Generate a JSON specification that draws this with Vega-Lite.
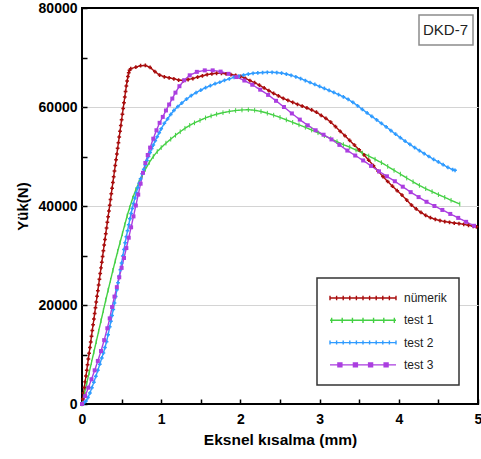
{
"$schema": "https://vega.github.io/schema/vega-lite/v6.json",
"width": 396, "height": 396,
"autosize": {"type": "none"},
"padding": {"left": 82, "top": 8, "right": 3, "bottom": 55},
"background": "white",
"config": {"font": "Liberation Sans", "view": {"stroke": "#000", "strokeWidth": 2}},
"datasets": {
"curves": [
{"series":"nümerik","x":0,"y":0},{"series":"nümerik","x":0.01,"y":1000},{"series":"nümerik","x":0.02,"y":2200},{"series":"nümerik","x":0.03,"y":3350},{"series":"nümerik","x":0.04,"y":4500},{"series":"nümerik","x":0.05,"y":5650},{"series":"nümerik","x":0.06,"y":6800},{"series":"nümerik","x":0.07,"y":7950},{"series":"nümerik","x":0.08,"y":9100},{"series":"nümerik","x":0.09,"y":10250},{"series":"nümerik","x":0.10,"y":11400},{"series":"nümerik","x":0.11,"y":12550},{"series":"nümerik","x":0.12,"y":13700},{"series":"nümerik","x":0.13,"y":14850},{"series":"nümerik","x":0.14,"y":16000},{"series":"nümerik","x":0.15,"y":17150},{"series":"nümerik","x":0.16,"y":18300},{"series":"nümerik","x":0.17,"y":19450},{"series":"nümerik","x":0.18,"y":20600},{"series":"nümerik","x":0.19,"y":21750},{"series":"nümerik","x":0.20,"y":22900},{"series":"nümerik","x":0.21,"y":24050},{"series":"nümerik","x":0.22,"y":25200},{"series":"nümerik","x":0.23,"y":26350},{"series":"nümerik","x":0.24,"y":27500},{"series":"nümerik","x":0.25,"y":28650},{"series":"nümerik","x":0.26,"y":29800},{"series":"nümerik","x":0.27,"y":30950},{"series":"nümerik","x":0.28,"y":32100},{"series":"nümerik","x":0.29,"y":33250},{"series":"nümerik","x":0.30,"y":34400},{"series":"nümerik","x":0.31,"y":35550},{"series":"nümerik","x":0.32,"y":36700},{"series":"nümerik","x":0.33,"y":37850},{"series":"nümerik","x":0.34,"y":39000},{"series":"nümerik","x":0.35,"y":40150},{"series":"nümerik","x":0.36,"y":41300},{"series":"nümerik","x":0.37,"y":42450},{"series":"nümerik","x":0.38,"y":43600},{"series":"nümerik","x":0.39,"y":44750},{"series":"nümerik","x":0.40,"y":45900},{"series":"nümerik","x":0.41,"y":47050},{"series":"nümerik","x":0.42,"y":48200},{"series":"nümerik","x":0.43,"y":49350},{"series":"nümerik","x":0.44,"y":50500},{"series":"nümerik","x":0.45,"y":51650},{"series":"nümerik","x":0.46,"y":52800},{"series":"nümerik","x":0.47,"y":53950},{"series":"nümerik","x":0.48,"y":55100},{"series":"nümerik","x":0.49,"y":56250},{"series":"nümerik","x":0.50,"y":57400},{"series":"nümerik","x":0.51,"y":58550},{"series":"nümerik","x":0.52,"y":59700},{"series":"nümerik","x":0.53,"y":60850},{"series":"nümerik","x":0.54,"y":62000},{"series":"nümerik","x":0.55,"y":63150},{"series":"nümerik","x":0.56,"y":64250},{"series":"nümerik","x":0.57,"y":65250},{"series":"nümerik","x":0.58,"y":66150},{"series":"nümerik","x":0.59,"y":66900},{"series":"nümerik","x":0.60,"y":67400},{"series":"nümerik","x":0.615,"y":67750},
{"series":"nümerik","x":0.68,"y":68050},{"series":"nümerik","x":0.74,"y":68350},{"series":"nümerik","x":0.80,"y":68400},{"series":"nümerik","x":0.86,"y":68000},{"series":"nümerik","x":0.92,"y":67150},{"series":"nümerik","x":0.98,"y":66450},{"series":"nümerik","x":1.04,"y":66100},{"series":"nümerik","x":1.10,"y":65900},{"series":"nümerik","x":1.16,"y":65700},{"series":"nümerik","x":1.22,"y":65450},{"series":"nümerik","x":1.28,"y":65350},{"series":"nümerik","x":1.34,"y":65550},{"series":"nümerik","x":1.40,"y":65750},{"series":"nümerik","x":1.46,"y":66050},{"series":"nümerik","x":1.52,"y":66300},{"series":"nümerik","x":1.58,"y":66550},{"series":"nümerik","x":1.64,"y":66700},{"series":"nümerik","x":1.70,"y":66800},{"series":"nümerik","x":1.76,"y":66800},{"series":"nümerik","x":1.82,"y":66700},{"series":"nümerik","x":1.88,"y":66550},{"series":"nümerik","x":1.94,"y":66400},{"series":"nümerik","x":2.00,"y":66200},{"series":"nümerik","x":2.06,"y":65800},{"series":"nümerik","x":2.12,"y":65350},{"series":"nümerik","x":2.18,"y":64900},{"series":"nümerik","x":2.24,"y":64400},{"series":"nümerik","x":2.30,"y":63850},{"series":"nümerik","x":2.36,"y":63300},{"series":"nümerik","x":2.42,"y":62750},{"series":"nümerik","x":2.48,"y":62250},{"series":"nümerik","x":2.54,"y":61750},{"series":"nümerik","x":2.60,"y":61350},{"series":"nümerik","x":2.66,"y":60950},{"series":"nümerik","x":2.72,"y":60550},{"series":"nümerik","x":2.78,"y":60200},{"series":"nümerik","x":2.84,"y":59800},{"series":"nümerik","x":2.90,"y":59400},{"series":"nümerik","x":2.96,"y":58950},{"series":"nümerik","x":3.02,"y":58300},{"series":"nümerik","x":3.08,"y":57700},{"series":"nümerik","x":3.14,"y":56950},{"series":"nümerik","x":3.20,"y":56050},{"series":"nümerik","x":3.26,"y":55100},{"series":"nümerik","x":3.32,"y":54200},{"series":"nümerik","x":3.38,"y":53250},{"series":"nümerik","x":3.44,"y":52300},{"series":"nümerik","x":3.50,"y":51350},{"series":"nümerik","x":3.56,"y":50350},{"series":"nümerik","x":3.62,"y":49250},{"series":"nümerik","x":3.68,"y":48150},{"series":"nümerik","x":3.74,"y":47000},{"series":"nümerik","x":3.80,"y":45950},{"series":"nümerik","x":3.86,"y":44950},{"series":"nümerik","x":3.92,"y":44000},{"series":"nümerik","x":3.98,"y":43100},{"series":"nümerik","x":4.04,"y":42200},{"series":"nümerik","x":4.10,"y":41200},{"series":"nümerik","x":4.16,"y":40200},{"series":"nümerik","x":4.22,"y":39400},{"series":"nümerik","x":4.28,"y":38700},{"series":"nümerik","x":4.34,"y":38100},{"series":"nümerik","x":4.40,"y":37650},{"series":"nümerik","x":4.46,"y":37300},{"series":"nümerik","x":4.52,"y":37050},{"series":"nümerik","x":4.58,"y":36850},{"series":"nümerik","x":4.64,"y":36700},{"series":"nümerik","x":4.70,"y":36550},{"series":"nümerik","x":4.76,"y":36450},{"series":"nümerik","x":4.82,"y":36300},{"series":"nümerik","x":4.88,"y":36100},{"series":"nümerik","x":4.94,"y":35900},{"series":"nümerik","x":4.98,"y":35800},
{"series":"test 1","x":0,"y":0},{"series":"test 1","x":0.03,"y":2100},{"series":"test 1","x":0.06,"y":4200},{"series":"test 1","x":0.09,"y":6300},{"series":"test 1","x":0.12,"y":8400},{"series":"test 1","x":0.15,"y":10500},{"series":"test 1","x":0.18,"y":12600},{"series":"test 1","x":0.21,"y":14700},{"series":"test 1","x":0.24,"y":16800},{"series":"test 1","x":0.27,"y":18900},{"series":"test 1","x":0.30,"y":21000},{"series":"test 1","x":0.33,"y":23000},{"series":"test 1","x":0.36,"y":25000},{"series":"test 1","x":0.39,"y":27000},{"series":"test 1","x":0.42,"y":28900},{"series":"test 1","x":0.45,"y":30800},{"series":"test 1","x":0.48,"y":32600},{"series":"test 1","x":0.51,"y":34400},{"series":"test 1","x":0.54,"y":36200},{"series":"test 1","x":0.57,"y":38000},{"series":"test 1","x":0.60,"y":39600},{"series":"test 1","x":0.64,"y":41600},{"series":"test 1","x":0.68,"y":43300},{"series":"test 1","x":0.72,"y":44800},{"series":"test 1","x":0.76,"y":46200},{"series":"test 1","x":0.80,"y":47400},{"series":"test 1","x":0.85,"y":48800},{"series":"test 1","x":0.90,"y":50000},{"series":"test 1","x":0.95,"y":51000},{"series":"test 1","x":1.00,"y":51800},{"series":"test 1","x":1.06,"y":52700},{"series":"test 1","x":1.12,"y":53500},{"series":"test 1","x":1.18,"y":54300},{"series":"test 1","x":1.24,"y":55000},{"series":"test 1","x":1.30,"y":55700},{"series":"test 1","x":1.36,"y":56300},{"series":"test 1","x":1.42,"y":56800},{"series":"test 1","x":1.49,"y":57300},{"series":"test 1","x":1.56,"y":57800},{"series":"test 1","x":1.63,"y":58200},{"series":"test 1","x":1.70,"y":58550},{"series":"test 1","x":1.78,"y":58850},{"series":"test 1","x":1.86,"y":59100},{"series":"test 1","x":1.94,"y":59300},{"series":"test 1","x":2.02,"y":59400},{"series":"test 1","x":2.10,"y":59450},{"series":"test 1","x":2.18,"y":59350},{"series":"test 1","x":2.26,"y":59100},{"series":"test 1","x":2.34,"y":58750},{"series":"test 1","x":2.42,"y":58350},{"series":"test 1","x":2.50,"y":57900},{"series":"test 1","x":2.58,"y":57400},{"series":"test 1","x":2.66,"y":56900},{"series":"test 1","x":2.74,"y":56400},{"series":"test 1","x":2.82,"y":55900},{"series":"test 1","x":2.90,"y":55350},{"series":"test 1","x":2.98,"y":54800},{"series":"test 1","x":3.06,"y":54200},{"series":"test 1","x":3.14,"y":53600},{"series":"test 1","x":3.22,"y":53000},{"series":"test 1","x":3.30,"y":52400},{"series":"test 1","x":3.38,"y":51900},{"series":"test 1","x":3.46,"y":51300},{"series":"test 1","x":3.54,"y":50700},{"series":"test 1","x":3.62,"y":50100},{"series":"test 1","x":3.70,"y":49450},{"series":"test 1","x":3.78,"y":48750},{"series":"test 1","x":3.86,"y":48000},{"series":"test 1","x":3.94,"y":47200},{"series":"test 1","x":4.02,"y":46450},{"series":"test 1","x":4.10,"y":45650},{"series":"test 1","x":4.18,"y":44900},{"series":"test 1","x":4.26,"y":44150},{"series":"test 1","x":4.34,"y":43500},{"series":"test 1","x":4.42,"y":42900},{"series":"test 1","x":4.50,"y":42300},{"series":"test 1","x":4.58,"y":41750},{"series":"test 1","x":4.66,"y":41150},{"series":"test 1","x":4.77,"y":40400},
{"series":"test 2","x":0,"y":0},{"series":"test 2","x":0.025,"y":250},{"series":"test 2","x":0.05,"y":600},{"series":"test 2","x":0.075,"y":1300},{"series":"test 2","x":0.10,"y":2200},{"series":"test 2","x":0.125,"y":3300},{"series":"test 2","x":0.15,"y":4400},{"series":"test 2","x":0.175,"y":5600},{"series":"test 2","x":0.20,"y":6800},{"series":"test 2","x":0.225,"y":8050},{"series":"test 2","x":0.25,"y":9300},{"series":"test 2","x":0.27,"y":10300},{"series":"test 2","x":0.29,"y":11400},{"series":"test 2","x":0.31,"y":12600},{"series":"test 2","x":0.33,"y":14000},{"series":"test 2","x":0.35,"y":15600},{"series":"test 2","x":0.365,"y":16700},{"series":"test 2","x":0.38,"y":17900},{"series":"test 2","x":0.395,"y":19100},{"series":"test 2","x":0.41,"y":20400},{"series":"test 2","x":0.425,"y":21700},{"series":"test 2","x":0.44,"y":23100},{"series":"test 2","x":0.455,"y":24500},{"series":"test 2","x":0.47,"y":25800},{"series":"test 2","x":0.485,"y":27100},{"series":"test 2","x":0.50,"y":28500},{"series":"test 2","x":0.515,"y":29900},{"series":"test 2","x":0.53,"y":31200},{"series":"test 2","x":0.545,"y":32600},{"series":"test 2","x":0.56,"y":33800},{"series":"test 2","x":0.575,"y":35000},{"series":"test 2","x":0.59,"y":36200},{"series":"test 2","x":0.605,"y":37400},{"series":"test 2","x":0.62,"y":38500},{"series":"test 2","x":0.635,"y":39500},{"series":"test 2","x":0.65,"y":40500},{"series":"test 2","x":0.668,"y":41600},{"series":"test 2","x":0.686,"y":42700},{"series":"test 2","x":0.704,"y":43700},{"series":"test 2","x":0.722,"y":44600},{"series":"test 2","x":0.74,"y":45500},{"series":"test 2","x":0.76,"y":46500},{"series":"test 2","x":0.78,"y":47400},{"series":"test 2","x":0.80,"y":48300},{"series":"test 2","x":0.82,"y":49200},{"series":"test 2","x":0.84,"y":50000},{"series":"test 2","x":0.86,"y":50800},{"series":"test 2","x":0.88,"y":51600},{"series":"test 2","x":0.90,"y":52300},{"series":"test 2","x":0.925,"y":53200},{"series":"test 2","x":0.95,"y":54000},{"series":"test 2","x":0.975,"y":54800},{"series":"test 2","x":1.00,"y":55600},{"series":"test 2","x":1.04,"y":56700},{"series":"test 2","x":1.08,"y":57600},{"series":"test 2","x":1.12,"y":58500},{"series":"test 2","x":1.16,"y":59300},{"series":"test 2","x":1.21,"y":60100},{"series":"test 2","x":1.26,"y":60800},{"series":"test 2","x":1.32,"y":61600},{"series":"test 2","x":1.38,"y":62300},{"series":"test 2","x":1.44,"y":62900},{"series":"test 2","x":1.50,"y":63400},{"series":"test 2","x":1.56,"y":63900},{"series":"test 2","x":1.62,"y":64300},{"series":"test 2","x":1.68,"y":64700},{"series":"test 2","x":1.74,"y":65000},{"series":"test 2","x":1.80,"y":65400},{"series":"test 2","x":1.86,"y":65700},{"series":"test 2","x":1.92,"y":66000},{"series":"test 2","x":1.98,"y":66250},{"series":"test 2","x":2.04,"y":66450},{"series":"test 2","x":2.10,"y":66650},{"series":"test 2","x":2.16,"y":66800},{"series":"test 2","x":2.22,"y":66900},{"series":"test 2","x":2.28,"y":66950},{"series":"test 2","x":2.34,"y":67000},{"series":"test 2","x":2.40,"y":67000},{"series":"test 2","x":2.46,"y":66950},{"series":"test 2","x":2.52,"y":66850},{"series":"test 2","x":2.58,"y":66650},{"series":"test 2","x":2.64,"y":66400},{"series":"test 2","x":2.70,"y":66100},{"series":"test 2","x":2.76,"y":65750},{"series":"test 2","x":2.82,"y":65350},{"series":"test 2","x":2.88,"y":64950},{"series":"test 2","x":2.94,"y":64550},{"series":"test 2","x":3.00,"y":64150},{"series":"test 2","x":3.06,"y":63750},{"series":"test 2","x":3.12,"y":63350},{"series":"test 2","x":3.18,"y":62950},{"series":"test 2","x":3.24,"y":62500},{"series":"test 2","x":3.30,"y":62050},{"series":"test 2","x":3.36,"y":61550},{"series":"test 2","x":3.42,"y":60950},{"series":"test 2","x":3.48,"y":60250},{"series":"test 2","x":3.54,"y":59500},{"series":"test 2","x":3.60,"y":58800},{"series":"test 2","x":3.66,"y":58100},{"series":"test 2","x":3.72,"y":57400},{"series":"test 2","x":3.78,"y":56700},{"series":"test 2","x":3.84,"y":56000},{"series":"test 2","x":3.90,"y":55250},{"series":"test 2","x":3.96,"y":54500},{"series":"test 2","x":4.02,"y":53800},{"series":"test 2","x":4.08,"y":53100},{"series":"test 2","x":4.14,"y":52450},{"series":"test 2","x":4.20,"y":51800},{"series":"test 2","x":4.26,"y":51200},{"series":"test 2","x":4.32,"y":50600},{"series":"test 2","x":4.38,"y":50000},{"series":"test 2","x":4.44,"y":49400},{"series":"test 2","x":4.50,"y":48900},{"series":"test 2","x":4.56,"y":48350},{"series":"test 2","x":4.62,"y":47800},{"series":"test 2","x":4.68,"y":47350},{"series":"test 2","x":4.71,"y":47200},
{"series":"test 3","x":0,"y":0},{"series":"test 3","x":0.04,"y":1600},{"series":"test 3","x":0.08,"y":3300},{"series":"test 3","x":0.12,"y":5000},{"series":"test 3","x":0.16,"y":6800},{"series":"test 3","x":0.20,"y":8700},{"series":"test 3","x":0.24,"y":10700},{"series":"test 3","x":0.28,"y":12900},{"series":"test 3","x":0.32,"y":15300},{"series":"test 3","x":0.35,"y":17300},{"series":"test 3","x":0.38,"y":19600},{"series":"test 3","x":0.41,"y":21700},{"series":"test 3","x":0.44,"y":23600},{"series":"test 3","x":0.47,"y":25600},{"series":"test 3","x":0.50,"y":27500},{"series":"test 3","x":0.53,"y":29500},{"series":"test 3","x":0.56,"y":31500},{"series":"test 3","x":0.59,"y":33600},{"series":"test 3","x":0.62,"y":35700},{"series":"test 3","x":0.65,"y":37900},{"series":"test 3","x":0.68,"y":40100},{"series":"test 3","x":0.71,"y":42300},{"series":"test 3","x":0.74,"y":44500},{"series":"test 3","x":0.77,"y":46700},{"series":"test 3","x":0.80,"y":48700},{"series":"test 3","x":0.83,"y":50300},{"series":"test 3","x":0.86,"y":51800},{"series":"test 3","x":0.90,"y":53600},{"series":"test 3","x":0.94,"y":55300},{"series":"test 3","x":0.98,"y":56800},{"series":"test 3","x":1.02,"y":58000},{"series":"test 3","x":1.06,"y":59300},{"series":"test 3","x":1.10,"y":60500},{"series":"test 3","x":1.14,"y":61700},{"series":"test 3","x":1.18,"y":62900},{"series":"test 3","x":1.23,"y":64200},{"series":"test 3","x":1.29,"y":65400},{"series":"test 3","x":1.36,"y":66400},{"series":"test 3","x":1.45,"y":67100},{"series":"test 3","x":1.55,"y":67400},{"series":"test 3","x":1.65,"y":67400},{"series":"test 3","x":1.75,"y":67150},{"series":"test 3","x":1.85,"y":66700},{"series":"test 3","x":1.95,"y":66050},{"series":"test 3","x":2.05,"y":65350},{"series":"test 3","x":2.15,"y":64500},{"series":"test 3","x":2.25,"y":63500},{"series":"test 3","x":2.35,"y":62450},{"series":"test 3","x":2.45,"y":61250},{"series":"test 3","x":2.55,"y":60000},{"series":"test 3","x":2.65,"y":58700},{"series":"test 3","x":2.75,"y":57450},{"series":"test 3","x":2.85,"y":56300},{"series":"test 3","x":2.95,"y":55300},{"series":"test 3","x":3.05,"y":54400},{"series":"test 3","x":3.15,"y":53450},{"series":"test 3","x":3.25,"y":52350},{"series":"test 3","x":3.35,"y":51200},{"series":"test 3","x":3.45,"y":50200},{"series":"test 3","x":3.55,"y":49200},{"series":"test 3","x":3.65,"y":48100},{"series":"test 3","x":3.75,"y":47000},{"series":"test 3","x":3.85,"y":46000},{"series":"test 3","x":3.95,"y":45000},{"series":"test 3","x":4.05,"y":43900},{"series":"test 3","x":4.15,"y":42800},{"series":"test 3","x":4.25,"y":41800},{"series":"test 3","x":4.35,"y":40850},{"series":"test 3","x":4.45,"y":40000},{"series":"test 3","x":4.55,"y":39200},{"series":"test 3","x":4.65,"y":38400},{"series":"test 3","x":4.75,"y":37600},{"series":"test 3","x":4.85,"y":36800},{"series":"test 3","x":4.95,"y":36000}
]
},
"data": {"name": "curves"},
"encoding": {
  "x": {"field": "x", "type": "quantitative",
    "scale": {"domain": [0, 5], "nice": false, "zero": false},
    "axis": {"values": [0,0.5,1,1.5,2,2.5,3,3.5,4,4.5,5], "format": "~g",
      "labelExpr": "datum.value % 1 === 0 ? datum.label : ''",
      "domain": false, "grid": false, "tickSize": -5, "tickColor": "#000", "tickWidth": 1.5,
      "labelFontSize": 14, "labelFontWeight": "bold", "labelColor": "#000", "labelPadding": 13,
      "labelFlush": false, "labelOverlap": false,
      "title": "Eksnel kısalma (mm)", "titleFontSize": 15.5, "titleFontWeight": "bold", "titleColor": "#000", "titlePadding": 6}},
  "y": {"field": "y", "type": "quantitative",
    "scale": {"domain": [0, 80000], "nice": false},
    "axis": {"values": [0,10000,20000,30000,40000,50000,60000,70000,80000], "format": "d",
      "labelExpr": "datum.value % 20000 === 0 ? datum.label : ''",
      "domain": false, "grid": true, "gridColor": "#d4d4d4", "gridWidth": 1,
      "gridOpacity": {"condition": {"test": "datum.value % 20000 === 0 && datum.value > 0 && datum.value < 80000", "value": 1}, "value": 0},
      "tickSize": -5, "tickColor": "#000", "tickWidth": 1.5,
      "labelFontSize": 14, "labelFontWeight": "bold", "labelColor": "#000", "labelPadding": 10,
      "labelFlush": false, "labelOverlap": false,
      "title": "Yük(N)", "titleFontSize": 15, "titleFontWeight": "bold", "titleColor": "#000", "titlePadding": 8}}
},
"layer": [
  {"mark": {"type": "line", "strokeWidth": 1.4, "interpolate": "linear"},
   "encoding": {
     "color": {"field": "series", "type": "nominal",
       "scale": {"domain": ["nümerik", "test 1", "test 2", "test 3"], "range": ["#a80d0d", "#44d044", "#2f9bff", "#ab3ee0"]},
       "legend": {"orient": "none", "legendX": 235, "legendY": 270, "title": null,
         "padding": 12, "strokeColor": "#333", "fillColor": "white",
         "labelFont": "Liberation Sans", "labelFontSize": 12, "labelColor": "#222",
         "symbolSize": 4356, "symbolStrokeWidth": 1.4, "clipHeight": 16, "rowPadding": 6.3,
         "labelOffset": 7, "symbolOffset": 0,
         "encode": {
           "legend": {"update": {"strokeWidth": {"value": 1.5}}},
           "symbols": {"update": {
           "shape": {"signal": "datum.index === 0 ? 'M-1,0H1M-1,-0.07V0.07M-0.8,-0.07V0.07M-0.6,-0.07V0.07M-0.4,-0.07V0.07M-0.2,-0.07V0.07M0,-0.07V0.07M0.2,-0.07V0.07M0.4,-0.07V0.07M0.6,-0.07V0.07M0.8,-0.07V0.07M1,-0.07V0.07' : datum.index === 1 ? 'M-1,0H1M-0.95,-0.08V0.08M-0.63,-0.08V0.08M-0.32,-0.08V0.08M0,-0.08V0.08M0.32,-0.08V0.08M0.63,-0.08V0.08M0.95,-0.08V0.08' : datum.index === 2 ? 'M-1,0H1M-1,-0.06V0.06M-0.8,-0.06V0.06M-0.6,-0.06V0.06M-0.4,-0.06V0.06M-0.2,-0.06V0.06M0,-0.06V0.06M0.2,-0.06V0.06M0.4,-0.06V0.06M0.6,-0.06V0.06M0.8,-0.06V0.06M1,-0.06V0.06' : 'M-1,0H1M-0.76,-0.06H-0.64V0.06H-0.76ZM-0.29,-0.06H-0.17V0.06H-0.29ZM0.17,-0.06H0.29V0.06H0.17ZM0.64,-0.06H0.76V0.06H0.64Z'"},
           "fill": {"signal": "scale('color', datum.value)"},
           "stroke": {"signal": "scale('color', datum.value)"},
           "opacity": {"value": 1}
         }}}}},
     "strokeDash": {"datum": "DKD-7", "type": "nominal", "scale": {"range": [[1, 0]]},
       "legend": {"orient": "none", "legendX": 337, "legendY": 7, "title": null,
         "padding": 4, "strokeColor": "#8c8c8c", "fillColor": "white",
         "labelFont": "Liberation Sans", "labelFontSize": 15, "labelColor": "#222",
         "symbolOpacity": 0, "symbolSize": 0, "symbolStrokeWidth": 0, "labelOffset": -15, "clipHeight": 22,
         "encode": {"legend": {"update": {"strokeWidth": {"value": 1.5}}}}}}
   }},
  {"transform": [{"filter": "datum.series === 'nümerik'"}],
   "mark": {"type": "point", "shape": "cross", "filled": true, "size": 14, "opacity": 1},
   "encoding": {"color": {"field": "series", "type": "nominal", "legend": null}}},
  {"transform": [{"filter": "datum.series === 'test 1'"}],
   "mark": {"type": "point", "shape": "M0,-1V1", "filled": false, "size": 22, "strokeWidth": 1, "opacity": 1},
   "encoding": {"color": {"field": "series", "type": "nominal", "legend": null}}},
  {"transform": [{"filter": "datum.series === 'test 2'"}],
   "mark": {"type": "point", "shape": "cross", "filled": true, "size": 14, "opacity": 1},
   "encoding": {"color": {"field": "series", "type": "nominal", "legend": null}}},
  {"transform": [{"filter": "datum.series === 'test 3'"}],
   "mark": {"type": "point", "shape": "square", "filled": true, "size": 16, "opacity": 1},
   "encoding": {"color": {"field": "series", "type": "nominal", "legend": null}}}
]
}
